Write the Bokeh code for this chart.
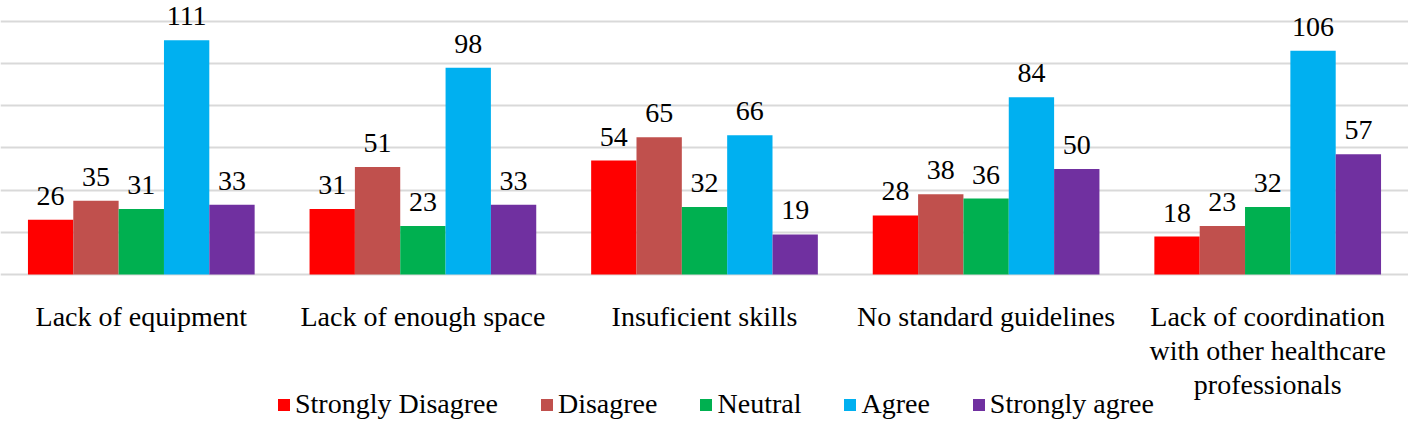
from bokeh.plotting import figure
from bokeh.models import ColumnDataSource, FixedTicker, Legend, LegendItem, Range1d, FactorRange
from bokeh.transform import dodge
from bokeh.core.properties import value
from bokeh.embed import file_html
from bokeh.resources import INLINE

categories = ["Lack of equipment", "Lack of enough space", "Insuficient skills",
              "No standard guidelines",
              "Lack of coordination\nwith other healthcare\nprofessionals"]
series_names = ["Strongly Disagree", "Disagree", "Neutral", "Agree", "Strongly agree"]
strongly_disagree = [26, 31, 54, 28, 18]
disagree = [35, 51, 65, 38, 23]
neutral = [31, 23, 32, 36, 32]
agree = [111, 98, 66, 84, 106]
strongly_agree = [33, 33, 19, 50, 57]
colors = ["#FF0000", "#C0504D", "#00B050", "#00B0F0", "#7030A0"]
grid_ticks = [0, 20, 40, 60, 80, 100, 120]

series = [strongly_disagree, disagree, neutral, agree, strongly_agree]
keys = ["s0", "s1", "s2", "s3", "s4"]
data = {"cat": categories, "zero": [0] * len(categories)}
for k, s in zip(keys, series):
    data[k] = s
    data[k + "_t"] = [str(v) for v in s]
source = ColumnDataSource(data)

FONT = "Liberation Serif"
FRAME_W = 1408
FRAME_H = 420
ZERO_PX = 274          # distance of the zero line from the top of the frame
PX_PER_UNIT = 2.11
y_top = ZERO_PX / PX_PER_UNIT
y_bottom = -(FRAME_H - ZERO_PX) / PX_PER_UNIT

p = figure(x_range=FactorRange(*categories), y_range=Range1d(y_bottom, y_top),
           frame_width=FRAME_W, frame_height=FRAME_H, output_backend="svg", toolbar_location=None,
           min_border_top=0, min_border_left=0, min_border_right=0, min_border_bottom=0)

bw = 0.161
offsets = [-2 * bw, -bw, 0, bw, 2 * bw]
items = []
for k, name, col, off in zip(keys, series_names, colors, offsets):
    r = p.vbar(x=dodge("cat", off, range=p.x_range), top=k, width=bw, source=source,
               fill_color=col, line_color=None)
    p.text(x=dodge("cat", off, range=p.x_range), y=k, text=k + "_t", source=source,
           text_font=value(FONT), text_font_size=value("28px"), text_color="#000000",
           text_align="center", text_baseline="alphabetic", y_offset=-24)
    items.append(LegendItem(label=name, renderers=[r]))

# category labels under the groups
p.text(x="cat", y="zero", text="cat", source=source,
       text_font=value(FONT), text_font_size=value("28px"), text_color="#000000",
       text_align="center", text_baseline="top", text_line_height=1.1, y_offset=26)

legend = Legend(items=items, orientation="horizontal", location=(276, 0),
                label_text_font=FONT, label_text_font_size="28px", label_text_color="#000000",
                glyph_width=15, glyph_height=15, label_standoff=4, spacing=41,
                padding=0, margin=0, border_line_color=None, background_fill_alpha=0)
p.add_layout(legend)

p.xaxis.visible = False
p.yaxis.visible = False
p.ygrid.ticker = FixedTicker(ticks=grid_ticks)
p.ygrid.grid_line_color = "#D9D9D9"
p.ygrid.grid_line_width = 1.8
p.xgrid.visible = False
p.outline_line_color = None

open("out.html", "w").write(file_html(p, INLINE))
